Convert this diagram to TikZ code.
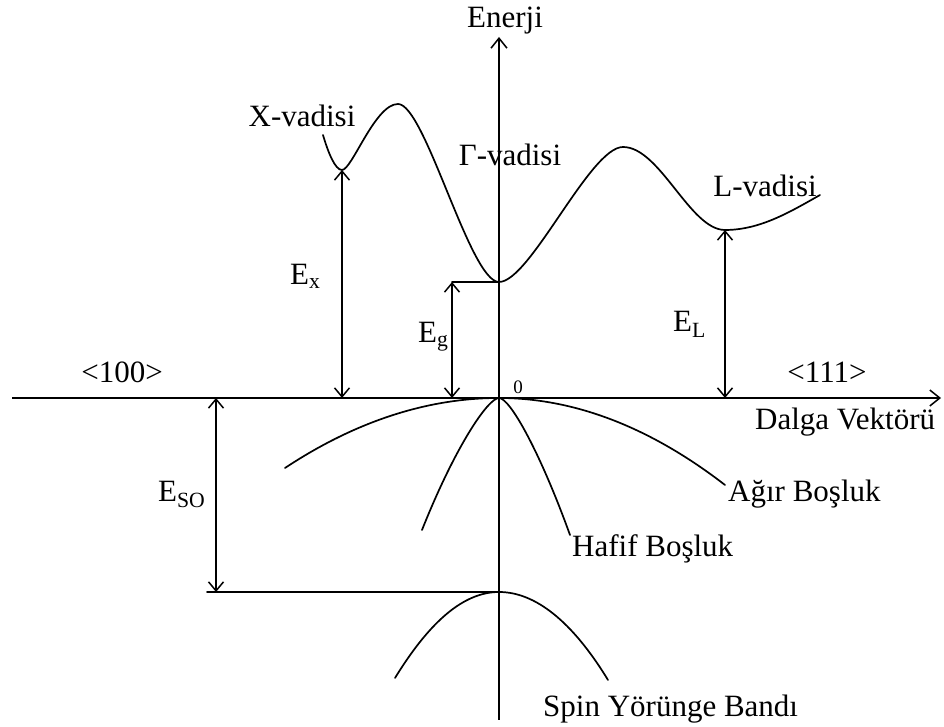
\documentclass[tikz,border=0pt]{standalone}
\usepackage{fontspec}
\setmainfont{Liberation Serif}
\usetikzlibrary{arrows.meta}
\tikzset{
  band/.style={line width=1.7pt, line cap=round},
  axisline/.style={line width=1.6pt, -{Straight Barb[length=10pt,width=16pt,line width=1.5pt]}},
  dimarrow/.style={line width=1.5pt, {Straight Barb[length=9pt,width=15pt]}-{Straight Barb[length=9pt,width=15pt]}},
  lbl/.style={font=\fontsize{31}{37}\selectfont, inner sep=0pt},
  small/.style={font=\fontsize{19}{23}\selectfont, inner sep=0pt},
}
\begin{document}
\begin{tikzpicture}[x=1pt,y=1pt]
\useasboundingbox (0,0) rectangle (944,727);
% axes
\coordinate (xl) at (12,329);
\coordinate (xr) at (941,329);
\coordinate (yb) at (499,7);
\coordinate (yt) at (499,690);
\coordinate (O) at (499,329);
\draw[axisline] (xl) -- (xr);
\draw[axisline] (yb) -- (yt);
% conduction band
\coordinate (c0) at (323,592);
\coordinate (Xmin) at (342,557);
\coordinate (m1) at (398,623);
\coordinate (G) at (499,445);
\coordinate (m2) at (623,580);
\coordinate (Lmin) at (725,497);
\coordinate (c1) at (820,532);
\draw[band] (c0) .. controls (328,575) and (335,557) .. (Xmin)
  .. controls (352,557) and (375,623) .. (m1)
  .. controls (425,623) and (470,445) .. (G)
  .. controls (530,445) and (590,580) .. (m2)
  .. controls (660,580) and (690,497) .. (Lmin)
  .. controls (760,497) and (790,515) .. (c1);
% valence bands
\coordinate (hhL) at (285,259);
\coordinate (hhR) at (725,242);
\coordinate (lhL) at (422,197);
\coordinate (lhR) at (570,192);
\coordinate (so) at (499,135);
\coordinate (soL) at (395,49);
\coordinate (soR) at (608,47);
\draw[band] (hhL) .. controls (356,306) and (428,329) .. (O)
  .. controls (574,329) and (650,300) .. (hhR);
\draw[band] (lhL) .. controls (455,280) and (488,329) .. (O)
  .. controls (510,329) and (540,275) .. (lhR);
\draw[band] (soL) .. controls (430,106) and (464,135) .. (so)
  .. controls (535,135) and (572,106) .. (soR);
% energy gaps
\coordinate (egT) at (452,445);
\coordinate (egB) at (452,329);
\coordinate (exB) at (342,329);
\coordinate (elB) at (725,329);
\coordinate (soT) at (216,329);
\coordinate (soB) at (216,135);
\coordinate (soLine) at (207,135);
\draw[band] (egT) -- (G);
\draw[band] (soLine) -- (so);
\draw[dimarrow] (egT) -- (egB);
\draw[dimarrow] (Xmin) -- (exB);
\draw[dimarrow] (Lmin) -- (elB);
\draw[dimarrow] (soT) -- (soB);
% labels
\node[lbl, anchor=base] (en) at (505,699) {Enerji};
\node[lbl, anchor=base] (xv) at (302,600) {X-vadisi};
\node[lbl, anchor=base] (gv) at (510,561) {Γ-vadisi};
\node[lbl, anchor=base] (lv) at (765,530) {L-vadisi};
\node[lbl, anchor=base west] (ex) at (290,442) {E\textsubscript{x}};
\node[lbl, anchor=base west] (eg) at (418,384) {E\textsubscript{g}};
\node[lbl, anchor=base west] (el) at (673,395) {E\textsubscript{L}};
\node[lbl, anchor=base west] (eso) at (158,225) {E\textsubscript{SO}};
\node[lbl, anchor=base] (d100) at (122,344) {<100>};
\node[lbl, anchor=base] (d111) at (827,344) {<111>};
\node[small, anchor=base] (zero) at (518,333) {0};
\node[lbl, anchor=base west] (dv) at (755,297) {Dalga Vektörü};
\node[lbl, anchor=base west] (ab) at (728,225) {Ağır Boşluk};
\node[lbl, anchor=base west] (hb) at (572,170) {Hafif Boşluk};
\node[lbl, anchor=base west] (sy) at (543,10) {Spin Yörünge Bandı};
\end{tikzpicture}
\end{document}
